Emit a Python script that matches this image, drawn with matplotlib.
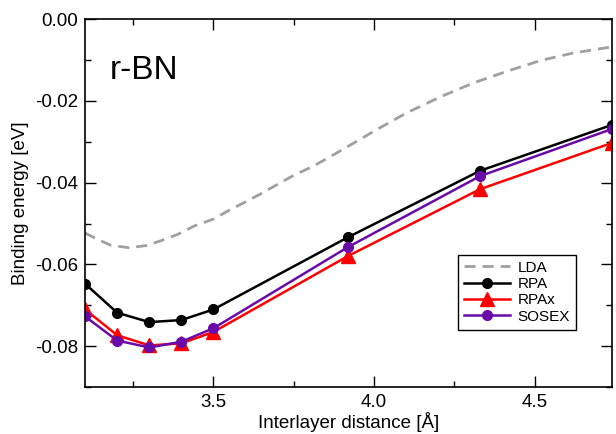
import matplotlib.pyplot as plt
from matplotlib.ticker import MultipleLocator

plt.rcParams['font.family'] = ['Liberation Sans', 'DejaVu Sans']

# Interlayer distances (Angstrom) for the computed points
dist = [3.1, 3.2, 3.3, 3.4, 3.5, 3.92, 4.33, 4.74]

rpa = [-0.0647, -0.0718, -0.0741, -0.0736, -0.0710, -0.0533, -0.0371, -0.0259]
rpax = [-0.0710, -0.0773, -0.0798, -0.0793, -0.0765, -0.0579, -0.0416, -0.0303]
sosex = [-0.0727, -0.0786, -0.0803, -0.0789, -0.0756, -0.0557, -0.0384, -0.0269]

# LDA curve
lda_x = [3.10, 3.14, 3.18, 3.235, 3.29, 3.34, 3.39, 3.44, 3.50, 3.55, 3.60,
         3.65, 3.70, 3.75, 3.81, 3.86, 3.90, 4.00, 4.10, 4.21, 4.31, 4.42,
         4.52, 4.62, 4.74]
lda_y = [-0.0523, -0.0539, -0.0553, -0.0559, -0.0554, -0.0541, -0.0526,
         -0.0506, -0.0489, -0.0467, -0.0447, -0.0426, -0.0404, -0.0382,
         -0.0360, -0.0338, -0.0320, -0.0274, -0.0230, -0.0189, -0.0156,
         -0.0126, -0.0101, -0.0083, -0.0068]

fig = plt.figure(figsize=(6.16, 4.34), dpi=100)
ax = fig.add_axes([0.138, 0.108, 0.855, 0.848])

ax.plot(lda_x, lda_y, color='#a0a0a0', lw=2, ls=(0, (4, 2.5)), label='LDA')
ax.plot(dist, rpa, color='black', lw=1.8, marker='o', ms=7, label='RPA')
ax.plot(dist, rpax, color='#ff0000', lw=1.8, marker='^', ms=10, label='RPAx')
ax.plot(dist, sosex, color='#6a0aa8', lw=1.8, marker='o', ms=7, label='SOSEX')

ax.set_xlim(3.1, 4.74)
ax.set_ylim(-0.09, 0.0)
ax.xaxis.set_major_locator(MultipleLocator(0.5))
ax.xaxis.set_minor_locator(MultipleLocator(0.25))
ax.yaxis.set_major_locator(MultipleLocator(0.02))
ax.yaxis.set_minor_locator(MultipleLocator(0.01))
ax.yaxis.set_major_formatter(plt.FormatStrFormatter('%.2f'))
ax.xaxis.set_major_formatter(plt.FormatStrFormatter('%.1f'))
ax.tick_params(which='both', direction='in', top=True, right=True,
               labelsize=13.5, width=1)
ax.tick_params(which='major', length=8, pad=5)
ax.tick_params(which='minor', length=4)
for s in ax.spines.values():
    s.set_linewidth(1.2)

ax.set_xlabel('Interlayer distance [Å]', fontsize=13.5, labelpad=1)
ax.set_ylabel('Binding energy [eV]', fontsize=13.5, labelpad=4)
ax.text(0.047, 0.86, 'r-BN', transform=ax.transAxes, fontsize=24,
        va='center', ha='left')

leg = ax.legend(loc='upper left', bbox_to_anchor=(0.708, 0.36), fontsize=11,
                handlelength=3, frameon=True, fancybox=False,
                borderpad=0.4, labelspacing=0.15, handletextpad=0.5,
                borderaxespad=0)
leg.get_frame().set_edgecolor('black')
leg.get_frame().set_linewidth(1)
leg.get_frame().set_alpha(1)

fig.savefig('out.png', dpi=100)
